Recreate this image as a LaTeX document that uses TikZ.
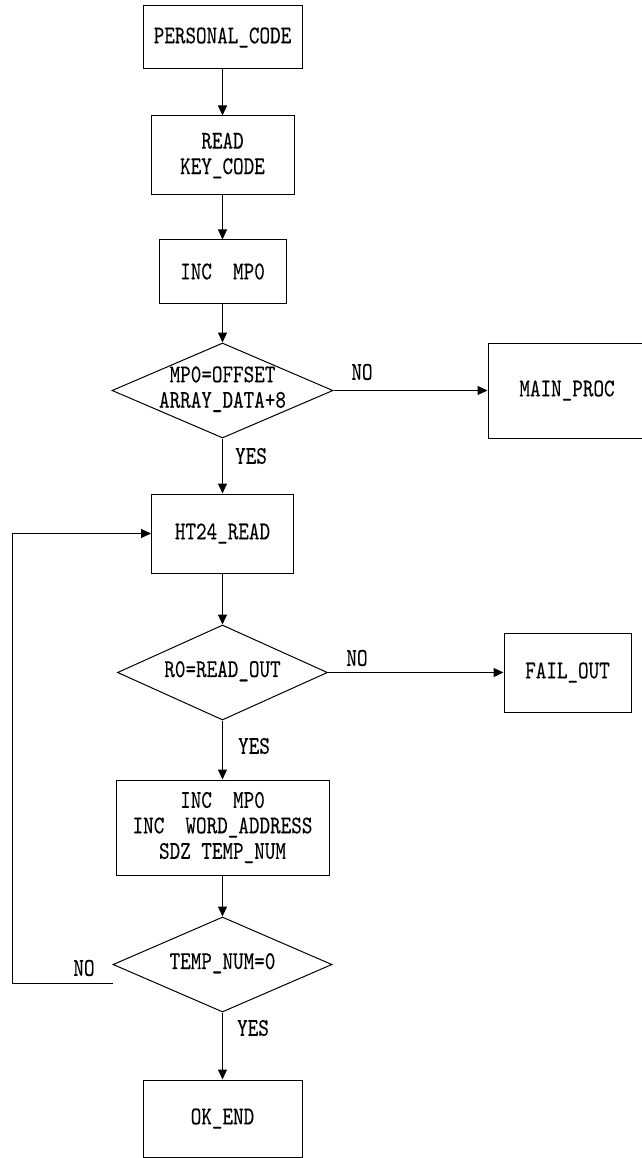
\documentclass[tikz,border=0pt]{standalone}
\usepackage{fontspec}
\usetikzlibrary{shapes.geometric,arrows.meta}
\newfontfamily\cfont{lmmono10-regular}[Extension=.otf,FakeStretch=0.79,FakeBold=0.15]
\newcommand{\dtext}[1]{\makebox[0pt]{\smash{\raisebox{-0.22em}{\begin{tabular}{@{}c@{}}#1\end{tabular}}}}}
\tikzset{
  every node/.style={font=\cfont\fontsize{25.5}{25.5}\selectfont},
  box/.style={draw, rectangle, line width=1pt, inner sep=0pt, align=center},
  dia/.style={draw, diamond, line width=1pt, inner sep=0pt},
  lbl/.style={inner sep=0pt},
  arr/.style={line width=1pt, -{Triangle[length=10pt,width=9pt]}},
  ln/.style={line width=1pt}
}
\begin{document}
\begin{tikzpicture}[x=1pt,y=-1pt]
\useasboundingbox (0,0) rectangle (641,1158);
\node[box, minimum width=159pt, minimum height=63pt] (pc) at (222.5,37.5) {PERSONAL\_CODE};
\node[box, minimum width=143pt, minimum height=79pt] (rk) at (222.5,155.5) {READ\\KEY\_CODE};
\node[box, minimum width=127pt, minimum height=63pt] (inc) at (222.5,271.5) {INC\ \ MP0};
\node[dia, minimum width=221pt, minimum height=95pt, shape aspect=2.33] (d1) at (222.5,390.5) {\dtext{MP0=OFFSET\\ARRAY\_DATA+8}};
\node[box, minimum width=170pt, minimum height=95pt] (mp) at (573,390.5) {\hspace*{-12pt}MAIN\_PROC};
\node[box, minimum width=142pt, minimum height=79pt] (ht) at (222.5,533.5) {HT24\_READ};
\node[dia, minimum width=210pt, minimum height=95pt, shape aspect=2.21] (d2) at (222.5,672.5) {\dtext{R0=READ\_OUT}};
\node[box, minimum width=127pt, minimum height=79pt] (fo) at (567.5,672.5) {FAIL\_OUT};
\node[box, minimum width=213pt, minimum height=95pt] (b3) at (222.5,827.5) {INC\ \ MP0\\INC\ \ WORD\_ADDRESS\\SDZ TEMP\_NUM};
\node[dia, minimum width=219pt, minimum height=95pt, shape aspect=2.3] (d3) at (222.5,964.5) {\dtext{TEMP\_NUM=0}};
\node[box, minimum width=159pt, minimum height=77pt] (ok) at (222.5,1118.5) {OK\_END};
\node[lbl] (no1) at (362,372) {NO};
\node[lbl] (yes1) at (251,456) {YES};
\node[lbl] (no2) at (357,658) {NO};
\node[lbl] (yes2) at (254,746) {YES};
\node[lbl] (no3) at (84,968) {NO};
\node[lbl] (yes3) at (253,1028) {YES};
\coordinate (nostart) at (113,983);
\coordinate (loopc) at (12,983);
\draw[arr] (pc.south) -- (rk.north);
\draw[arr] (rk.south) -- (inc.north);
\draw[arr] (inc.south) -- (d1.north);
\draw[arr] (d1.south) -- (ht.north);
\draw[arr] (d1.east) -- (mp.west);
\draw[arr] (ht.south) -- (d2.north);
\draw[arr] (d2.east) -- (fo.west);
\draw[arr] (d2.south) -- (b3.north);
\draw[arr] (b3.south) -- (d3.north);
\draw[arr] (d3.south) -- (ok.north);
\draw[arr] (nostart) -- (loopc) |- (ht.west);
\end{tikzpicture}
\end{document}
